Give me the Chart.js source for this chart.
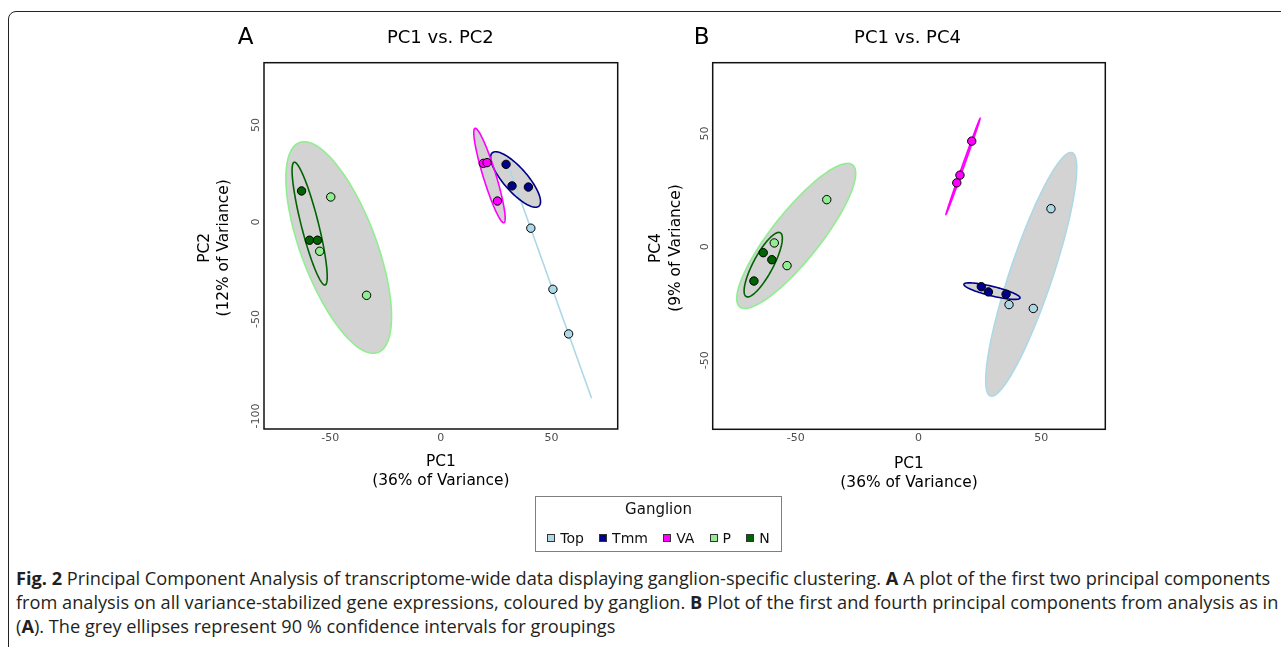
<!DOCTYPE html>
<html>
<head>
<meta charset="utf-8">
<script src="https://cdn.jsdelivr.net/npm/chart.js@4.4.1/dist/chart.umd.min.js"></script>
<style>
  html, body { margin: 0; padding: 0; background: #fff; }
  body { width: 1281px; height: 647px; position: relative; overflow: hidden; }
  .frame { position: absolute; left: 8px; top: 11px; width: 1320px; height: 700px;
           border: 1.5px solid #222; border-radius: 8px; }
  canvas { position: absolute; top: 0; }
  #legend { position: absolute; left: 535px; top: 496px; width: 245px; height: 54px;
            border: 1px solid #7f7f7f; font-family: 'DejaVu Sans', sans-serif; color: #111; }
  #legend .title { position: absolute; left: 0; right: 0; top: 3px; text-align: center; font-size: 15px; }
  #legend .items { position: absolute; left: 0; right: 0; top: 32px; display: flex; justify-content: center;
                   font-size: 14px; line-height: 18px; }
  #legend .item { display: flex; align-items: center; margin: 0 7.6px; }
  #legend .sw { width: 6px; height: 6px; border: 1px solid #333; margin-right: 5px; }
  #caption { position: absolute; left: 16px; top: 566px; font-family: 'Open Sans', sans-serif;
             color: #231f20; line-height: 24px; white-space: nowrap; }
  #caption b { font-weight: 700; }
</style>
</head>
<body>
<div class="frame"></div>
<canvas id="pcaA" width="460" height="500" style="left:180px"></canvas>
<canvas id="pcaB" width="490" height="500" style="left:640px"></canvas>
<div id="legend"><div class="title">Ganglion</div><div class="items" id="legend-items"></div></div>
<div id="caption">
  <div id="cap1"><b>Fig. 2</b> Principal Component Analysis of transcriptome-wide data displaying ganglion-specific clustering. <b>A</b> A plot of the first two principal components</div>
  <div>from analysis on all variance-stabilized gene expressions, coloured by ganglion. <b>B</b> Plot of the first and fourth principal components from analysis as in</div>
  <div>(<b>A</b>). The grey ellipses represent 90 % confidence intervals for groupings</div>
</div>
<script>
// groups, in legend order
const groups = ['Top', 'Tmm', 'VA', 'P', 'N'];
const groupColors = ['#add8e6', '#00008b', '#ff00ff', '#90ee90', '#006400'];

// panel A: PC1 vs PC2 (three samples per ganglion)
const pc1A = {
  Top: [40.7, 50.7, 57.8],
  Tmm: [29.5, 32.2, 39.6],
  VA:  [19.2, 20.9, 25.6],
  P:   [-49.8, -54.8, -33.6],
  N:   [-63.0, -59.4, -55.8]
};
const pc2A = {
  Top: [-3.2, -34.7, -57.7],
  Tmm: [29.7, 18.6, 18.0],
  VA:  [30.2, 30.6, 10.8],
  P:   [12.9, -15.1, -37.8],
  N:   [16.0, -9.4, -9.4]
};

// panel B: PC1 vs PC4
const pc1B = {
  Top: [54.0, 36.9, 46.8],
  Tmm: [25.6, 28.5, 35.7],
  VA:  [21.7, 16.9, 15.6],
  P:   [-37.4, -58.8, -53.6],
  N:   [-63.3, -59.8, -67.1]
};
const pc4B = {
  Top: [16.8, -25.5, -27.2],
  Tmm: [-17.6, -19.9, -20.9],
  VA:  [46.6, 31.6, 28.2],
  P:   [20.8, 1.7, -8.3],
  N:   [-2.6, -5.7, -15.1]
};

// 90% ellipses in data units (order = groups)
// extent in x / y, plus the y where the ellipse reaches its max x
const ellXMinA = [31.2, 22.5, 14.9, -70.1, -67.3];
const ellXMaxA = [68.2, 45.1, 29.1, -22.3, -51.4];
const ellYMinA = [-90.9, 7.6, -0.4, -67.7, -32.5];
const ellYMaxA = [26.8, 36.2, 48.3, 41.4, 30.8];
const ellYAtXMaxA = [-90.9, 10.5, 1.9, -48.8, -28.2];

const ellXMinB = [27.4, 18.5, 11.2, -74.1, -71.1];
const ellXMaxB = [64.5, 41.4, 25.1, -25.6, -55.5];
const ellYMinB = [-65.9, -23.2, 14.3, -27.2, -22.1];
const ellYMaxB = [41.6, -15.9, 56.6, 36.8, 6.35];
const ellYAtXMaxB = [34.6, -22.5, 56.57, 32.4, 3.7];

// axes
const xTicks = [-50, 0, 50];
const yTicksA = [50, 0, -50, -100];
const yTicksB = [50, 0, -50];

const FONT = "'DejaVu Sans', sans-serif";

function ellipsePath(ctx, xs, ys, e, i) {
    const cx = (e.xMin[i] + e.xMax[i]) / 2;
    const cy = (e.yMin[i] + e.yMax[i]) / 2;
    const ux = e.xMax[i] - cx;
    const uy = e.yAtXMax[i] - cy;
    const v = e.yMax[i] - cy;
    const k = Math.sqrt(Math.max(0, v * v - uy * uy));
    ctx.beginPath();
    for (let s = 0; s <= 120; s++) {
        const t = s / 120 * Math.PI * 2;
        const px = xs.getPixelForValue(cx + ux * Math.cos(t));
        const py = ys.getPixelForValue(cy + uy * Math.cos(t) + k * Math.sin(t));
        if (s === 0) ctx.moveTo(px, py); else ctx.lineTo(px, py);
    }
    ctx.closePath();
}

function panelPlugin(p) {
    return {
        id: 'panel' + p.letter,
        beforeDatasetsDraw(chart) {
            const { ctx, scales: { x, y } } = chart;
            ctx.save();
            // grey fills first, then the coloured outlines
            groups.forEach((g, i) => {
                ellipsePath(ctx, x, y, p.ell, i);
                ctx.fillStyle = '#d3d3d3';
                ctx.fill();
            });
            groups.forEach((g, i) => {
                ellipsePath(ctx, x, y, p.ell, i);
                ctx.strokeStyle = groupColors[i];
                ctx.lineWidth = 1.6;
                ctx.stroke();
            });
            ctx.restore();
        },
        afterDraw(chart) {
            const { ctx, chartArea: a, scales: { x, y } } = chart;
            ctx.save();
            ctx.strokeStyle = '#111';
            ctx.lineWidth = 1.5;
            ctx.strokeRect(a.left, a.top, a.right - a.left, a.bottom - a.top);

            ctx.fillStyle = '#4d4d4d';
            ctx.font = '11px ' + FONT;
            ctx.textAlign = 'center';
            ctx.textBaseline = 'middle';
            xTicks.forEach(v => ctx.fillText(String(v), x.getPixelForValue(v), a.bottom + 9.3));
            p.yTicks.forEach(v => {
                ctx.save();
                ctx.translate(a.left - 7.5, y.getPixelForValue(v));
                ctx.rotate(-Math.PI / 2);
                ctx.fillText(String(v), 0, 0);
                ctx.restore();
            });

            ctx.fillStyle = '#000';
            ctx.font = '15.4px ' + FONT;
            const cx = (a.left + a.right) / 2;
            ctx.fillText(p.xTitle[0], cx, a.bottom + p.xTitleDy[0]);
            ctx.fillText(p.xTitle[1], cx, a.bottom + p.xTitleDy[1]);
            const cy = (a.top + a.bottom) / 2 + 2;
            p.yTitle.forEach((t, j) => {
                ctx.save();
                ctx.translate(a.left - p.yTitleDx[j], cy);
                ctx.rotate(-Math.PI / 2);
                ctx.fillText(t, 0, 0);
                ctx.restore();
            });

            ctx.font = '18px ' + FONT;
            ctx.fillText(p.title, cx + p.titleDx, 38.5);
            ctx.font = '23px ' + FONT;
            ctx.fillText(p.letter, p.letterX, 38.5);
            ctx.restore();
        }
    };
}

function buildPanel(canvasId, p) {
    const datasets = groups.map((g, i) => ({
        label: g,
        data: p.xs[g].map((v, j) => ({ x: v, y: p.ys[g][j] })),
        backgroundColor: groupColors[i],
        borderColor: '#000',
        borderWidth: 1,
        pointRadius: 4.2
    }));
    return new Chart(document.getElementById(canvasId), {
        type: 'scatter',
        data: { datasets: datasets },
        options: {
            responsive: false,
            animation: false,
            events: [],
            devicePixelRatio: 1,
            layout: { padding: p.padding },
            plugins: { legend: { display: false }, tooltip: { enabled: false } },
            scales: {
                x: { display: false, min: p.xRange[0], max: p.xRange[1] },
                y: { display: false, min: p.yRange[0], max: p.yRange[1] }
            }
        },
        plugins: [panelPlugin(p)]
    });
}

buildPanel('pcaA', {
    letter: 'A', letterX: 65.7, title: 'PC1 vs. PC2', titleDx: -0.5,
    xs: pc1A, ys: pc2A,
    ell: { xMin: ellXMinA, xMax: ellXMaxA, yMin: ellYMinA, yMax: ellYMaxA, yAtXMax: ellYAtXMaxA },
    xRange: [-80, 80], yRange: [-106.7, 82.1], yTicks: yTicksA,
    padding: { left: 84, top: 62.7, right: 22.3, bottom: 71 },
    xTitle: ['PC1', '(36% of Variance)'], xTitleDy: [32.7, 51.7],
    yTitle: ['PC2', '(12% of Variance)'], yTitleDx: [59, 39.7]
});

buildPanel('pcaB', {
    letter: 'B', letterX: 61.7, title: 'PC1 vs. PC4', titleDx: -1.5,
    xs: pc1B, ys: pc4B,
    ell: { xMin: ellXMinB, xMax: ellXMaxB, yMin: ellYMinB, yMax: ellYMaxB, yAtXMax: ellYAtXMaxB },
    xRange: [-83.9, 76.15], yRange: [-80.5, 81.2], yTicks: yTicksB,
    padding: { left: 72.7, top: 62.7, right: 24.7, bottom: 70.7 },
    xTitle: ['PC1', '(36% of Variance)'], xTitleDy: [35, 54],
    yTitle: ['PC4', '(9% of Variance)'], yTitleDx: [56.7, 36.7]
});

// legend
const legendItems = document.getElementById('legend-items');
groups.forEach((g, i) => {
    const item = document.createElement('div');
    item.className = 'item';
    item.innerHTML = `<span class="sw" style="background:${groupColors[i]}"></span><span>${g}</span>`;
    legendItems.appendChild(item);
});

// caption: fit the first line to the width it has in the figure
const cap = document.getElementById('caption');
cap.style.fontSize = '16px';
const w = document.getElementById('cap1').scrollWidth;
cap.style.fontSize = (16 * 1262 / w).toFixed(2) + 'px';
</script>
</body>
</html>
